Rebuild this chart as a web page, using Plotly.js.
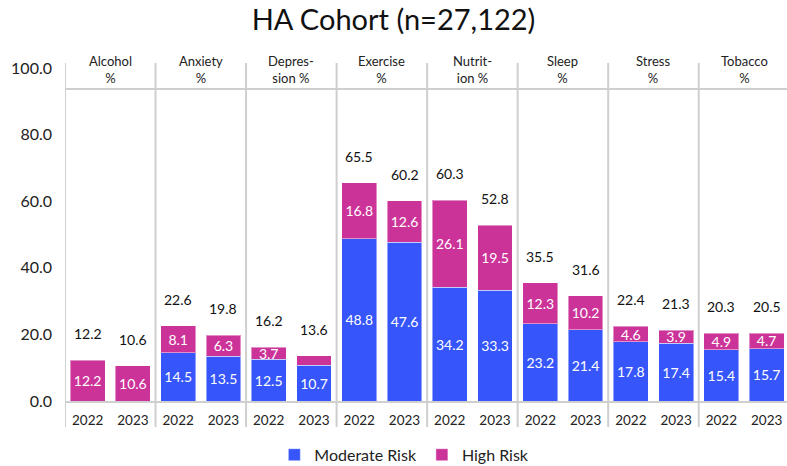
<!DOCTYPE html>
<html>
<head>
<meta charset="utf-8">
<script src="https://cdn.plot.ly/plotly-3.0.1.min.js"></script>
<style>html,body{margin:0;padding:0;background:#fff;}#chart{width:787px;height:466px;}</style>
</head>
<body>
<div id="chart"></div>
<script>
var groups = ['Alcohol<br>%', 'Anxiety<br>%', 'Depres-<br>sion %', 'Exercise<br>%', 'Nutrit-<br>ion %', 'Sleep<br>%', 'Stress<br>%', 'Tobacco<br>%'];
var years = ['2022', '2023'];
var moderate = [0, 0, 14.5, 13.5, 12.5, 10.7, 48.8, 47.6, 34.2, 33.3, 23.2, 21.4, 17.8, 17.4, 15.4, 15.7];
var high = [12.2, 10.6, 8.1, 6.3, 3.7, 2.9, 16.8, 12.6, 26.1, 19.5, 12.3, 10.2, 4.6, 3.9, 4.9, 4.7];
var totals = [12.2, 10.6, 22.6, 19.8, 16.2, 13.6, 65.5, 60.2, 60.3, 52.8, 35.5, 31.6, 22.4, 21.3, 20.3, 20.5];

var xs = moderate.map(function(_, i){ return i; });
var ticktext = xs.map(function(i){ return years[i % years.length]; });
var font = 'Lato, "Open Sans", sans-serif';
var blue = '#3656FB';
var pink = '#CC3399';

var traces = [
  {
    type: 'bar', name: 'Moderate Risk', x: xs, y: moderate,
    marker: {color: blue, line: {color: 'rgba(255,255,255,0.45)', width: 1}},
    text: moderate.map(function(v){ return v > 0 ? v.toFixed(1) : ''; }),
    textposition: 'inside', insidetextanchor: 'middle', constraintext: 'none',
    textfont: {color: '#ffffff', size: 14, family: font},
    width: 0.77, hoverinfo: 'skip'
  },
  {
    type: 'bar', name: 'High Risk', x: xs, y: high,
    marker: {color: pink, line: {color: 'rgba(255,255,255,0.45)', width: 1}},
    text: high.map(function(v){ return v >= 3 ? v.toFixed(1) : ''; }),
    textposition: 'inside', insidetextanchor: 'middle', constraintext: 'none',
    textfont: {color: '#ffffff', size: 14, family: font},
    width: 0.77, hoverinfo: 'skip'
  }
];

var annotations = totals.map(function(t, i){
  return {x: xs[i], y: Math.max(t, moderate[i] + high[i]), xref: 'x', yref: 'y', text: t.toFixed(1),
    showarrow: false, yanchor: 'bottom', yshift: 16, font: {size: 14, color: '#111', family: font}};
});
groups.forEach(function(g, k){
  annotations.push({x: k * 2 + 0.5, y: 0.995, xref: 'x', yref: 'paper', text: g, showarrow: false,
    yanchor: 'middle', align: 'center', font: {size: 13, color: '#222', family: font}});
});

var lineColor = '#cfcfcf';
var shapes = [{type: 'line', xref: 'paper', yref: 'paper', x0: 0, x1: 1, y0: 0.937, y1: 0.937,
  line: {color: lineColor, width: 2}}];
groups.forEach(function(g, k){
  shapes.push({type: 'line', xref: 'x', yref: 'paper', x0: k * 2 - 0.5, x1: k * 2 - 0.5,
    y0: -0.078, y1: 1.015, line: {color: lineColor, width: 2}});
});

var layout = {
  width: 787, height: 466,
  margin: {l: 65, r: 0, t: 68, b: 65},
  paper_bgcolor: '#ffffff', plot_bgcolor: '#ffffff',
  font: {family: font, color: '#222'},
  title: {text: 'HA Cohort (n=27,122)', font: {size: 29, color: '#111', family: font},
    x: 0.5, xanchor: 'center', y: 0.957, yanchor: 'middle', yref: 'container'},
  barmode: 'stack',
  showlegend: true,
  legend: {orientation: 'h', x: 0.47, xanchor: 'center', y: 0.024, yanchor: 'middle', yref: 'container',
    font: {size: 16, color: '#222', family: font}, itemwidth: 30, traceorder: 'normal'},
  xaxis: {range: [-0.5, 15.45], tickvals: xs, ticktext: ticktext, showgrid: false, zeroline: false,
    showline: true, linecolor: lineColor, linewidth: 2, ticks: '', ticklabelstandoff: 6,
    tickfont: {size: 13.5, color: '#222', family: font}, fixedrange: true},
  yaxis: {range: [0, 100], dtick: 20, tickformat: '.1f', showgrid: false, zeroline: false,
    showline: false, ticks: '', ticklabelstandoff: 12,
    tickfont: {size: 16, color: '#222', family: font}, fixedrange: true},
  annotations: annotations,
  shapes: shapes
};

Plotly.newPlot('chart', traces, layout, {displayModeBar: false, staticPlot: true});
</script>
</body>
</html>
